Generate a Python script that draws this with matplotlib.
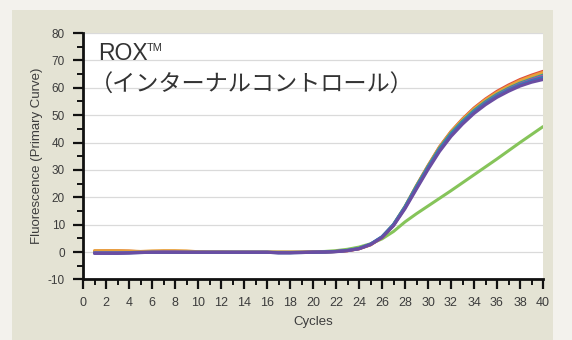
import matplotlib
matplotlib.use("Agg")
import matplotlib.pyplot as plt
from matplotlib.patches import Rectangle
from matplotlib.ticker import MultipleLocator

plt.rcParams["axes.unicode_minus"] = False

# Amplification cycles
cycles = list(range(1, 41))

# Fluorescence (primary curve) per well
red = [0.3, 0.4, 0.4, 0.3, 0.1, 0.0, 0.1, 0.1, 0.0, -0.1,
       -0.1, -0.1, -0.1, -0.1, -0.1, -0.1, -0.1, -0.1, -0.1, 0.0,
       0.0, 0.2, 0.5, 1.2, 2.6, 5.3, 9.8, 16.4, 24.2, 31.5,
       38.4, 44.0, 48.6, 52.6, 55.9, 58.7, 61.0, 63.0, 64.6, 66.0]
orange = [0.5, 0.5, 0.5, 0.4, 0.2, 0.4, 0.5, 0.5, 0.4, 0.1,
          0.0, 0.0, -0.1, -0.1, -0.1, -0.1, -0.1, -0.1, -0.1, 0.0,
          0.1, 0.2, 0.5, 1.2, 2.7, 5.4, 10.0, 16.6, 24.3, 31.5,
          38.3, 43.9, 48.4, 52.3, 55.6, 58.3, 60.6, 62.6, 64.2, 65.6]
teal = [-0.2, -0.2, -0.2, -0.2, -0.1, -0.1, -0.1, -0.1, -0.1, -0.1,
        -0.1, -0.1, -0.1, -0.1, -0.1, -0.1, -0.2, -0.2, -0.1, 0.0,
        0.0, 0.2, 0.6, 1.3, 2.8, 5.5, 10.1, 16.6, 24.1, 31.2,
        37.9, 43.4, 47.8, 51.7, 54.9, 57.6, 59.8, 61.7, 63.2, 64.6]
blue = [-0.4, -0.4, -0.4, -0.3, -0.2, -0.1, -0.1, -0.1, -0.1, -0.1,
        -0.1, -0.1, -0.1, -0.1, -0.1, -0.1, -0.3, -0.3, -0.2, -0.1,
        0.0, 0.2, 0.6, 1.3, 2.9, 5.6, 10.0, 16.3, 23.6, 30.7,
        37.3, 42.8, 47.3, 51.1, 54.3, 57.0, 59.2, 61.1, 62.6, 63.8]
magenta = [-0.3, -0.3, -0.3, -0.2, -0.1, -0.1, 0.0, 0.0, -0.1, -0.1,
           -0.1, -0.1, -0.1, -0.1, -0.1, -0.1, -0.2, -0.2, -0.1, 0.0,
           0.0, 0.2, 0.5, 1.2, 2.8, 5.4, 9.8, 16.1, 23.4, 30.6,
           37.2, 42.7, 47.2, 51.1, 54.4, 57.1, 59.4, 61.3, 62.9, 64.2]
purple = [-0.5, -0.5, -0.5, -0.4, -0.2, -0.1, -0.1, -0.1, -0.1, -0.1,
          -0.1, -0.1, -0.1, -0.1, -0.1, -0.1, -0.3, -0.3, -0.2, -0.1,
          0.0, 0.1, 0.5, 1.2, 2.7, 5.3, 9.6, 15.8, 23.0, 30.1,
          36.7, 42.2, 46.7, 50.6, 53.8, 56.5, 58.7, 60.6, 62.0, 63.0]
green = [0.0, 0.0, 0.0, 0.0, 0.0, 0.0, 0.0, 0.0, 0.0, 0.0,
         0.0, 0.0, 0.0, 0.0, 0.0, 0.0, 0.0, 0.0, 0.0, 0.1,
         0.2, 0.5, 1.0, 1.8, 3.0, 4.8, 7.5, 11.0, 14.0, 16.8,
         19.6, 22.4, 25.3, 28.2, 31.1, 34.0, 37.0, 40.0, 42.9, 45.8]

series = [
    (green, "#86c45a"),
    (red, "#e04a3c"),
    (orange, "#e8a03a"),
    (teal, "#2f9e96"),
    (magenta, "#b8509e"),
    (blue, "#3d72b8"),
    (purple, "#6a4da2"),
]

y_ticks = [-10, 0, 10, 20, 30, 40, 50, 60, 70, 80]
x_ticks = list(range(0, 41, 2))

W, H = 572, 340
fig = plt.figure(figsize=(W / 100, H / 100), dpi=100, facecolor="#f3f2ed")
panel = Rectangle((12 / W, 0), (553 - 12) / W, (H - 10) / H,
                  transform=fig.transFigure, facecolor="#e4e3d4",
                  edgecolor="none", zorder=-10)
fig.add_artist(panel)

ax = fig.add_axes([83 / W, 1 - 279.4 / H, (543 - 83) / W, (279.4 - 33) / H])
ax.set_zorder(1)
ax.set_facecolor("white")

for vals, col in series:
    ax.plot(cycles, vals, color=col, lw=2.2, solid_capstyle="round", zorder=3)

ax.set_xlim(0, 40)
ax.set_ylim(-10, 80)
ax.set_xticks(x_ticks)
ax.set_yticks(y_ticks)
ax.xaxis.set_minor_locator(MultipleLocator(1))
ax.yaxis.set_minor_locator(MultipleLocator(5))
ax.grid(axis="y", which="major", color="#dadada", lw=0.9, zorder=0)

for side in ("top", "right"):
    ax.spines[side].set_visible(False)
for side in ("left", "bottom"):
    ax.spines[side].set_linewidth(2)
    ax.spines[side].set_color("#111111")

ax.tick_params(which="major", direction="out", length=7, width=1.6,
               color="#111111", labelcolor="#3c3c3c")
ax.tick_params(which="minor", direction="out", length=4, width=1.4,
               color="#111111")
ax.tick_params(axis="x", which="major", labelsize=9, pad=6)
ax.tick_params(axis="y", which="major", labelsize=8.5, pad=6)
for lab in ax.get_xticklabels() + ax.get_yticklabels():
    lab.set_family("Liberation Sans")

ax.set_xlabel("Cycles", fontsize=9.5, color="#3c3c3c", family="Liberation Sans")
ax.set_ylabel("Fluorescence (Primary Curve)", fontsize=9.5, color="#3c3c3c",
              family="Liberation Sans")
ax.xaxis.set_label_coords(0.5, -0.149)
ax.yaxis.set_label_coords(-0.087, 0.5)

ax.text(0.033, 0.890, "ROX", transform=ax.transAxes, fontsize=16.5,
        family="Liberation Sans", color="#333333", va="baseline", ha="left",
        zorder=5)
ax.text(0.139, 0.928, "TM", transform=ax.transAxes, fontsize=8,
        family="Liberation Sans", color="#333333", va="baseline", ha="left",
        zorder=5)
ax.text(0.015, 0.789, "（インターナルコントロール）", transform=ax.transAxes,
        fontsize=16.7, family=["Noto Sans CJK JP", "DejaVu Sans"],
        color="#333333", va="center", ha="left", zorder=5)

fig.savefig("out.png", dpi=100, facecolor=fig.get_facecolor())
